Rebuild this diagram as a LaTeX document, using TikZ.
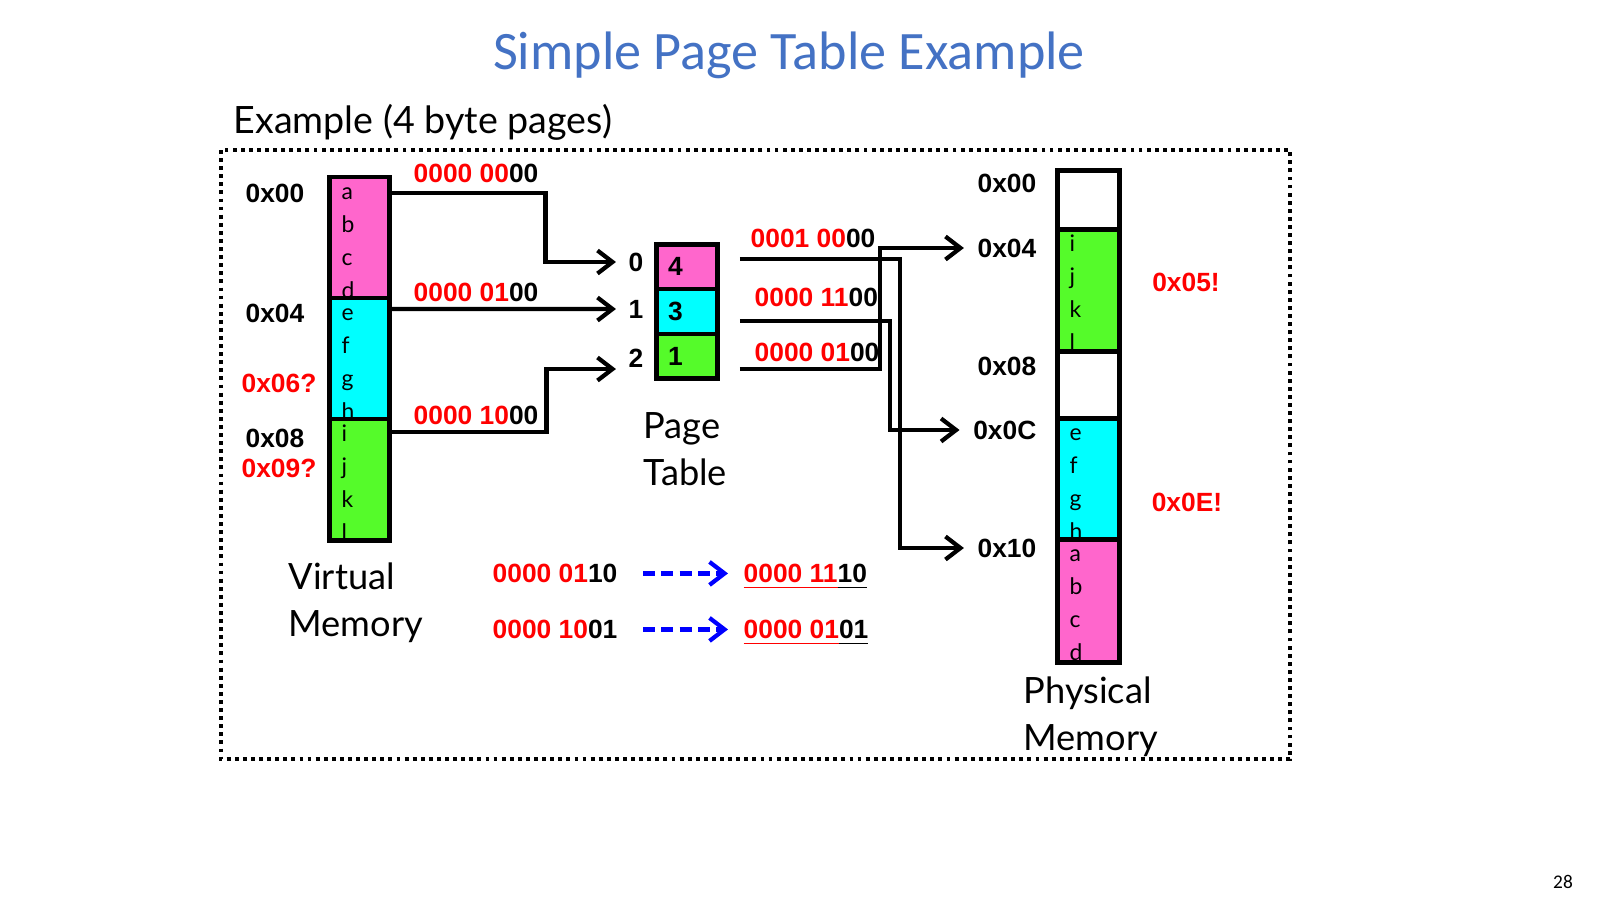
\documentclass[tikz,border=0pt]{standalone}
\usepackage{fontspec}
\newfontfamily\gillfont{Lato}
\newfontfamily\calfont{Carlito}
\newfontfamily\arialfont{Liberation Sans}
\usetikzlibrary{arrows.meta,calc,positioning}
\definecolor{pagepink}{HTML}{FF66CC}
\definecolor{pagecyan}{HTML}{00FFFF}
\definecolor{pagegreen}{HTML}{55FB2A}
\definecolor{addrred}{HTML}{FF0000}
\definecolor{titleblue}{HTML}{4472C4}
\definecolor{fwdblue}{HTML}{0000FF}
% red page number part, black offset part
\newcommand{\bits}[2]{\textcolor{addrred}{#1}#2}
\newcommand{\ubits}[2]{\textcolor{addrred}{\underline{#1}}\underline{#2}}

\begin{document}
\begin{tikzpicture}[x=0.01cm, y=-0.01cm,
    hex/.style={font=\arialfont\bfseries\fontsize{7.5}{9}\selectfont, inner sep=0pt},
    redhex/.style={hex, text=addrred},
    bitlbl/.style={hex, anchor=base west},
    caption/.style={font=\gillfont\fontsize{10.3}{13.2}\selectfont, align=left, inner sep=0pt, anchor=base west},
    letter/.style={font=\gillfont\fontsize{6.5}{7}\selectfont, inner sep=0pt, anchor=base west},
    memcell/.style={draw, line width=1.3pt, outer sep=0pt, inner sep=0pt, minimum width=0.6cm},
    ptcell/.style={draw, line width=1.3pt, outer sep=0pt, minimum height=0.448cm,
      inner xsep=0.117cm, inner ysep=0pt, text width=0.38cm, align=left,
      font=\arialfont\bfseries\fontsize{7.5}{9}\selectfont},
    link/.style={line width=1.2pt, -{Straight Barb[length=1.5mm,width=2.3mm]}},
    fwd/.style={fwdblue, line width=1.2pt, dash pattern=on 3.4pt off 1.8pt,
      -{Straight Barb[length=1.5mm,width=2.3mm]}, shorten <=0.25cm, shorten >=0.15cm},
    dotframe/.style={line width=1.1pt, dash pattern=on 1.1pt off 1.2pt}]
  \useasboundingbox (0,0) rectangle (1600,900);

  % headings
  \node[font=\calfont\fontsize{15.4}{18}\selectfont, text=titleblue, anchor=base, inner sep=0pt]
    (title) at (789,70) {Simple Page Table Example};
  \node[font=\gillfont\fontsize{10.7}{13}\selectfont, anchor=base west, inner sep=0pt]
    (subtitle) at (233,133) {Example (4 byte pages)};
  \draw[dotframe] (221,150) rectangle (1290,759);

  % virtual memory
  \node[memcell, fill=pagepink, minimum height=1.21cm, anchor=north west] (vm0) at (329.5,177) {};
  \node[memcell, fill=pagecyan, minimum height=1.21cm, below=0pt of vm0] (vm1) {};
  \node[memcell, fill=pagegreen, minimum height=1.21cm, below=0pt of vm1] (vm2) {};
  \node[hex] (va00) at (275,193) {0x00};
  \node[hex] (va04) at (275,313) {0x04};
  \node[redhex] (va06) at (279,383) {0x06?};
  \node[hex] (va08) at (275,438) {0x08};
  \node[redhex] (va09) at (279,468) {0x09?};
  \node[caption] (vmname) at (288,636) {Virtual\\Memory};

  % page table
  \node[ptcell, fill=pagepink, anchor=north west] (pt0) at (656.3,244.3) {4};
  \node[ptcell, fill=pagecyan, below=0pt of pt0] (pt1) {3};
  \node[ptcell, fill=pagegreen, below=0pt of pt1] (pt2) {1};
  \node[hex] (ix0) at (636,262) {0};
  \node[hex] (ix1) at (636,309) {1};
  \node[hex] (ix2) at (636,358) {2};
  \node[caption] (ptname) at (643,485) {Page\\Table};

  % physical memory
  \node[memcell, minimum width=0.624cm, minimum height=0.59cm, anchor=north west] (pm0) at (1057.3,170.3) {};
  \node[memcell, fill=pagegreen, minimum width=0.624cm, minimum height=1.22cm, below=0pt of pm0] (pm1) {};
  \node[memcell, minimum width=0.624cm, minimum height=0.67cm, below=0pt of pm1] (pm2) {};
  \node[memcell, fill=pagecyan, minimum width=0.624cm, minimum height=1.21cm, below=0pt of pm2] (pm3) {};
  \node[memcell, fill=pagepink, minimum width=0.624cm, minimum height=1.23cm, below=0pt of pm3] (pm4) {};
  \node[hex, anchor=east] (pa00) at (1037,183) {0x00};
  \node[hex, anchor=east] (pa04) at (1037,248) {0x04};
  \node[hex, anchor=east] (pa08) at (1037,366) {0x08};
  \node[hex, anchor=east] (pa0C) at (1037,430) {0x0C};
  \node[hex, anchor=east] (pa10) at (1037,548) {0x10};
  \node[redhex] (pa05) at (1186,282) {0x05!};
  \node[redhex] (pa0E) at (1187,502) {0x0E!};
  \node[caption] (pmname) at (1023,750) {Physical\\Memory};

  % bytes in each page
  \foreach \blk/\chars in {vm0/{a,b,c,d}, vm1/{e,f,g,h}, vm2/{i,j,k,l},
                           pm1/{i,j,k,l}, pm3/{e,f,g,h}, pm4/{a,b,c,d}}{
    \foreach \ch [count=\k from 0] in \chars{
      \node[letter] (\blk-\ch) at ($(\blk.north west)+(11.5,{22+33*\k})$) {\ch};
    }
  }

  % virtual page -> page table entry
  \draw[link] ([yshift=-0.16cm]vm0.north east) -- ++(156,0) |- ([xshift=-0.12cm]ix0.west);
  \draw[link] ([yshift=-0.11cm]vm1.north east) -- ([xshift=-0.12cm]ix1.west);
  \draw[link] ([yshift=-0.13cm]vm2.north east) -- ++(157,0) |- ([xshift=-0.12cm,yshift=-0.11cm]ix2.west);
  \node[bitlbl] (vb0) at (413,182.5) {\bits{0000 00}{00}};
  \node[bitlbl] (vb1) at (413,301.5) {\bits{0000 01}{00}};
  \node[bitlbl] (vb2) at (413,424.5) {\bits{0000 10}{00}};

  % page table entry -> physical frame
  \draw[link] ([xshift=0.22cm,yshift=0.08cm]pt0.east) -- ++(160,0) |- ([xshift=-0.13cm]pa10.west);
  \draw[link] ([xshift=0.22cm,yshift=-0.095cm]pt1.east) -- ++(150,0) |- ([xshift=-0.13cm]pa0C.west);
  \draw[link] ([xshift=0.22cm,yshift=-0.127cm]pt2.east) -- ++(140,0) |- ([xshift=-0.13cm]pa04.west);
  \node[bitlbl] (pb0) at (750,247.5) {\bits{0001 00}{00}};
  \node[bitlbl] (pb1) at (754,306.5) {\bits{0000 11}{00}};
  \node[bitlbl] (pb2) at (754,361.5) {\bits{0000 01}{00}};

  % two translations
  \node[bitlbl] (src1) at (492,582.5) {\bits{0000 01}{10}};
  \node[bitlbl] (src2) at (492,638.5) {\bits{0000 10}{01}};
  \node[bitlbl] (dst1) at (743,582.5) {\ubits{0000 11}{10}};
  \node[bitlbl] (dst2) at (743,638.5) {\ubits{0000 01}{01}};
  \draw[fwd] (src1.east) -- (src1.east -| dst1.west);
  \draw[fwd] (src2.east) -- (src2.east -| dst2.west);

  \node[font=\calfont\fontsize{5.5}{7}\selectfont, inner sep=0pt] (slideno) at (1563,882) {28};
\end{tikzpicture}
\end{document}
